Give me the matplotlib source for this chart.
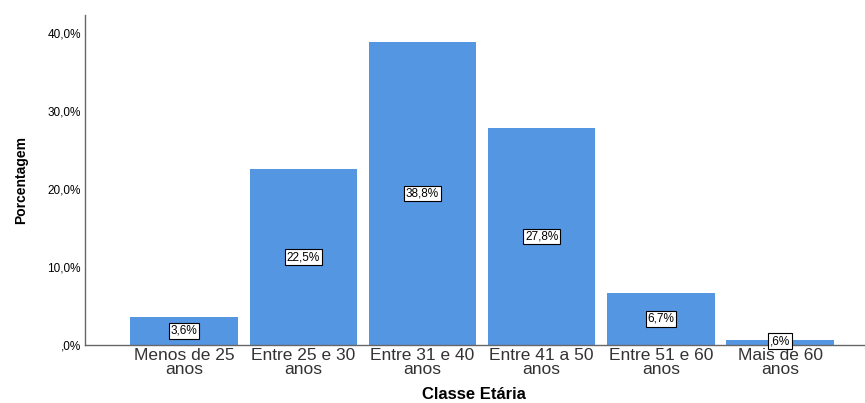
import matplotlib
matplotlib.use("Agg")
import matplotlib.pyplot as plt

categories = ["Menos de 25\nanos", "Entre 25 e 30\nanos", "Entre 31 e 40\nanos",
              "Entre 41 a 50\nanos", "Entre 51 e 60\nanos", "Mais de 60\nanos"]
values = [3.6, 22.5, 38.8, 27.8, 6.7, 0.6]
labels = ["3,6%", "22,5%", "38,8%", "27,8%", "6,7%", ",6%"]
yticks = [0, 10, 20, 30, 40]
yticklabels = [",0%", "10,0%", "20,0%", "30,0%", "40,0%"]

plt.rcParams['font.family'] = ['Liberation Sans', 'DejaVu Sans']
fig = plt.figure(figsize=(8.65, 4.03), dpi=100)
ax = fig.add_axes([0.0983, 0.144, 0.90, 0.819])
x = list(range(len(categories)))
ax.bar(x, values, width=0.9, color='#5596e3', zorder=2)
for xi, v, lab in zip(x, values, labels):
    yy = v / 2 if v > 2 else v / 2 + 0.2
    ax.text(xi, yy, lab, ha='center', va='center', fontsize=8.5,
            bbox=dict(boxstyle='square,pad=0.15', fc='white', ec='black', lw=0.8), zorder=3)
ax.set_xlim(-0.83, 5.7)
ax.set_ylim(0, 42.3)
ax.set_yticks(yticks)
ax.set_yticklabels(yticklabels, fontsize=8.5)
ax.set_xticks(x)
ax.set_xticklabels(categories, fontsize=12.5, linespacing=0.95, color='#333333')
ax.tick_params(axis='both', length=0)
ax.tick_params(axis='x', pad=2)
ax.tick_params(axis='y', pad=3)
for s in ['top', 'right']:
    ax.spines[s].set_visible(False)
for s in ['left', 'bottom']:
    ax.spines[s].set_color('#666666')
    ax.spines[s].set_linewidth(1.0)
ax.set_ylabel("Porcentagem", fontsize=10, fontweight='bold', labelpad=14)
ax.set_xlabel("Classe Etária", fontsize=12, fontweight='bold', labelpad=7)
fig.savefig("out.png", dpi=100)
